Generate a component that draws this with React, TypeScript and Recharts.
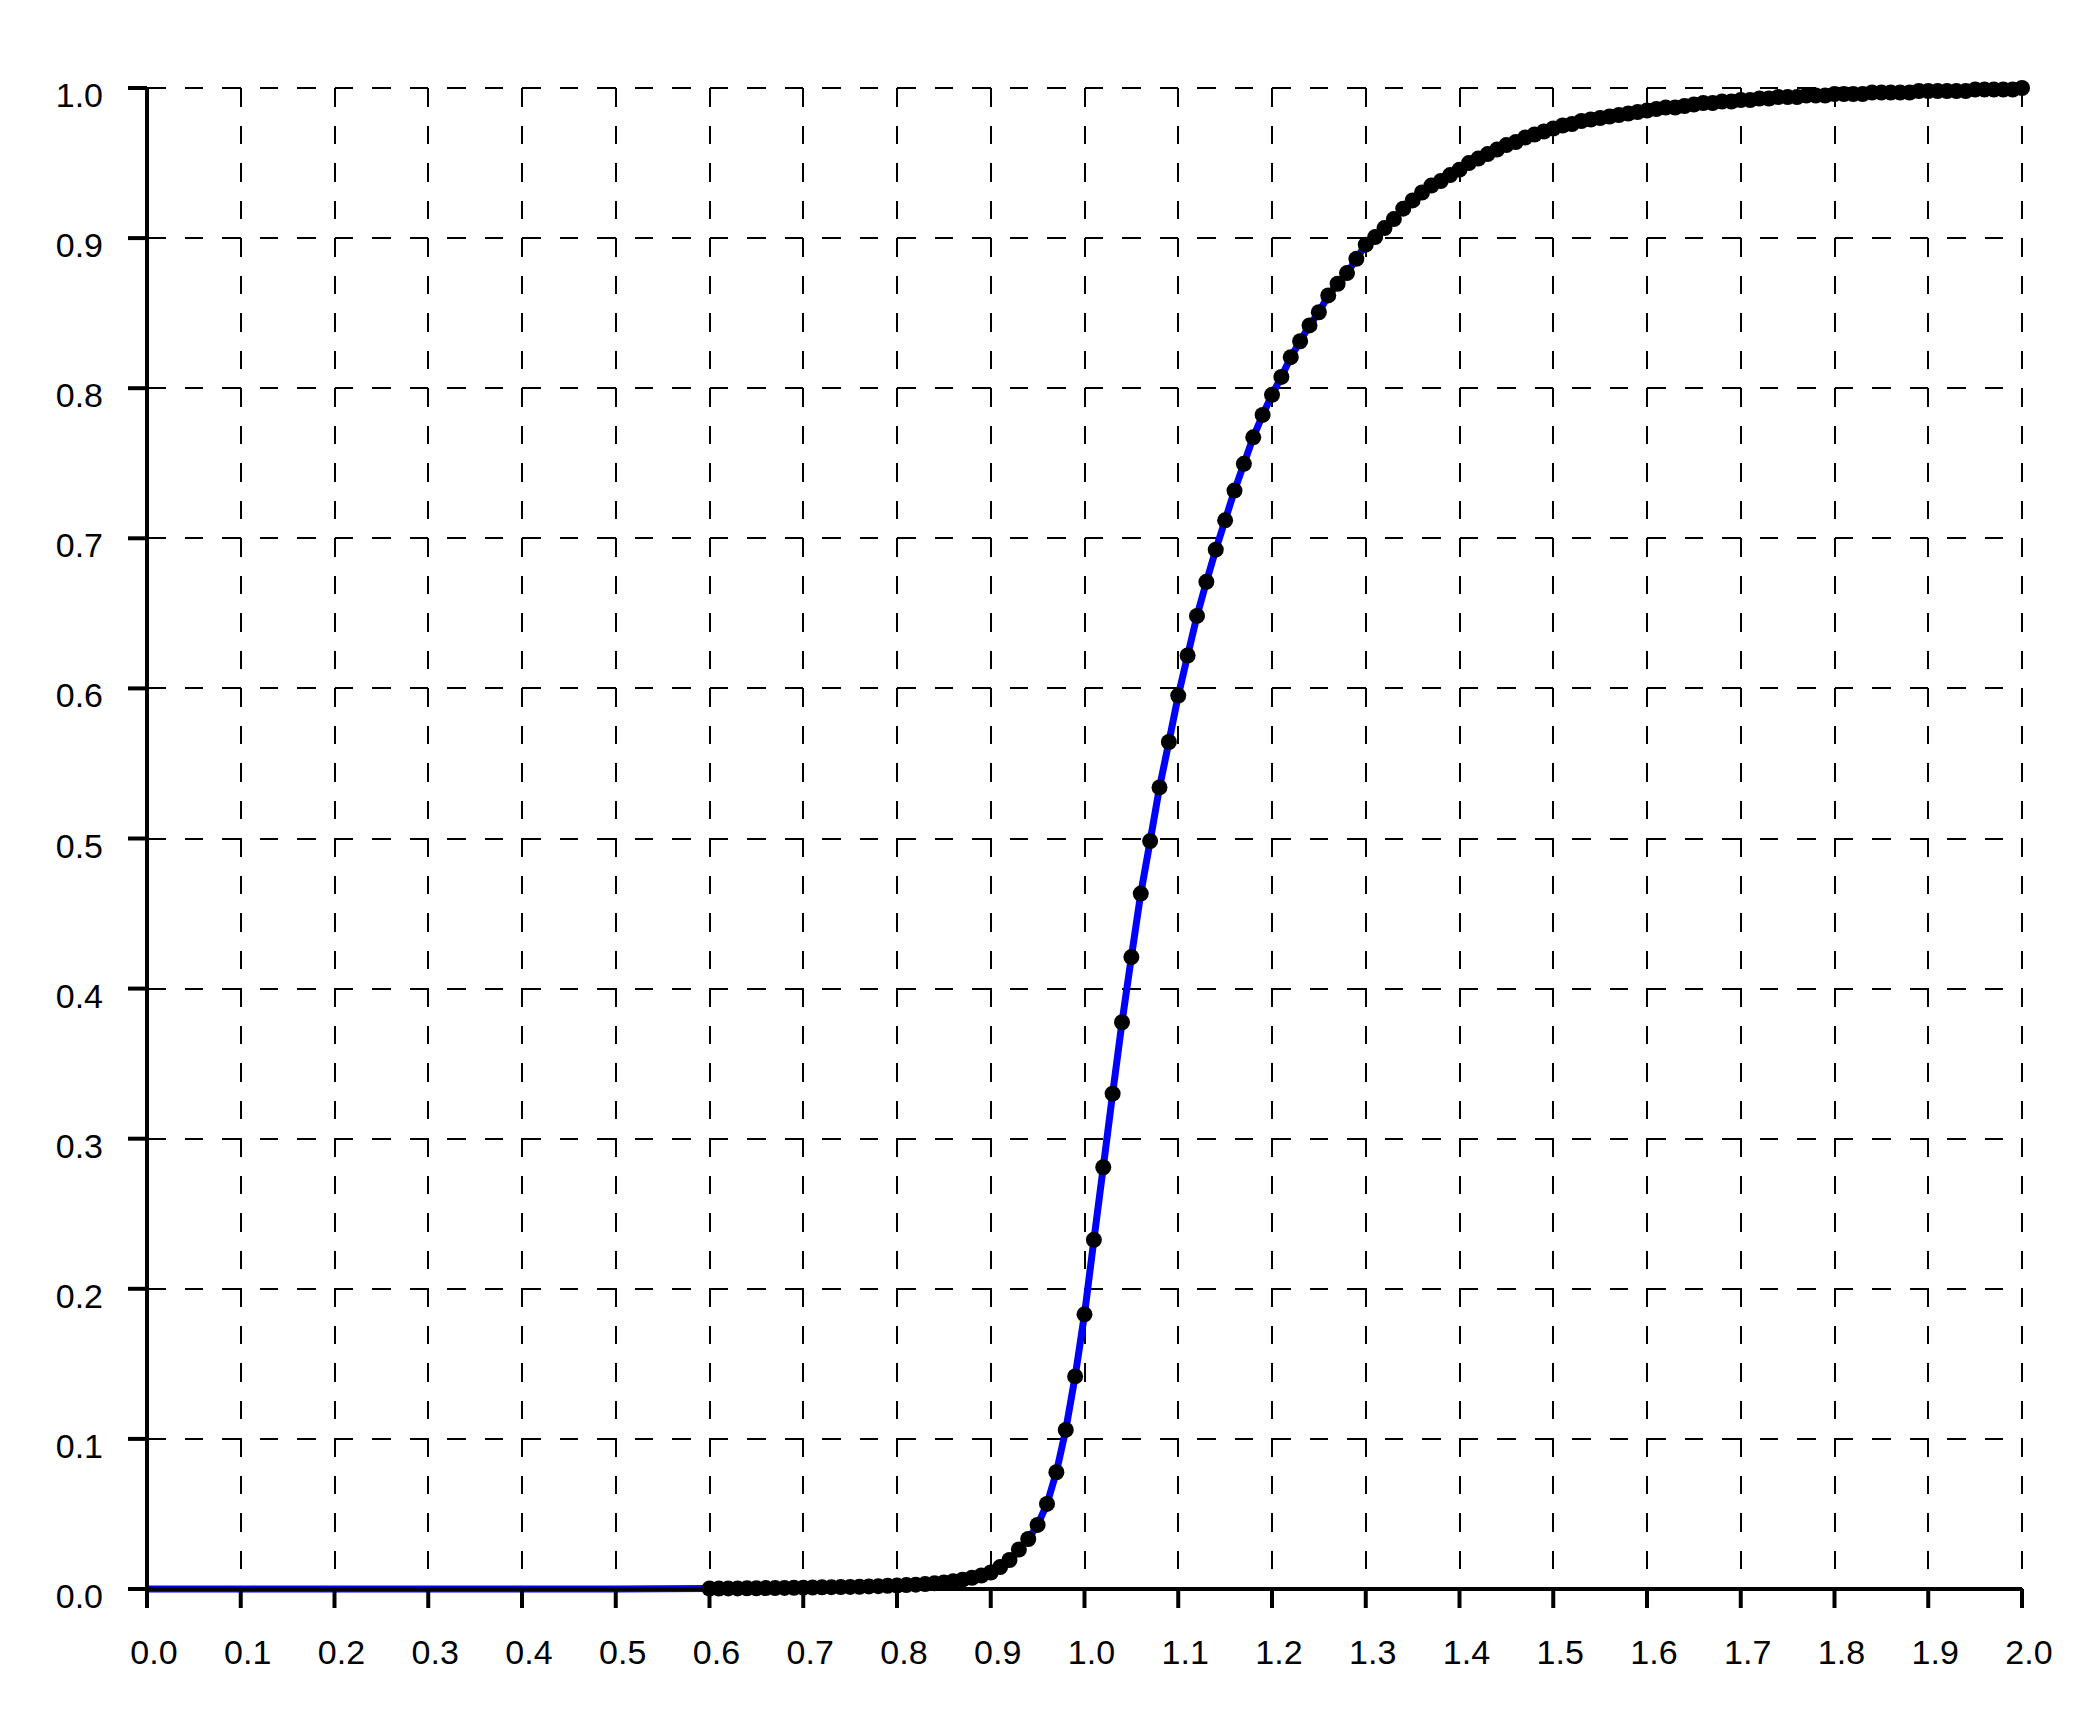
import { ComposedChart, Line, XAxis, YAxis, CartesianGrid } from 'recharts';

// x ticks 0.0 .. 2.0, y ticks 0.0 .. 1.0
const X_TICKS = [0, 0.1, 0.2, 0.3, 0.4, 0.5, 0.6, 0.7, 0.8, 0.9, 1.0, 1.1, 1.2, 1.3, 1.4, 1.5, 1.6, 1.7, 1.8, 1.9, 2.0];
const Y_TICKS = [0, 0.1, 0.2, 0.3, 0.4, 0.5, 0.6, 0.7, 0.8, 0.9, 1.0];

// fitted curve before the sample starts (flat at zero)
const fitX = [0, 0.1, 0.2, 0.3, 0.4, 0.5];
const fitY = [0, 0, 0, 0, 0, 0];

// sampled points (black dots), also followed by the blue curve
const sampleX = [
  0.60, 0.61, 0.62, 0.63, 0.64, 0.65, 0.66, 0.67, 0.68, 0.69,
  0.70, 0.71, 0.72, 0.73, 0.74, 0.75, 0.76, 0.77, 0.78, 0.79,
  0.80, 0.81, 0.82, 0.83, 0.84, 0.85, 0.86, 0.87, 0.88, 0.89,
  0.90, 0.91, 0.92, 0.93, 0.94, 0.95, 0.96, 0.97, 0.98, 0.99,
  1.00, 1.01, 1.02, 1.03, 1.04, 1.05, 1.06, 1.07, 1.08, 1.09,
  1.10, 1.11, 1.12, 1.13, 1.14, 1.15, 1.16, 1.17, 1.18, 1.19,
  1.20, 1.21, 1.22, 1.23, 1.24, 1.25, 1.26, 1.27, 1.28, 1.29,
  1.30, 1.31, 1.32, 1.33, 1.34, 1.35, 1.36, 1.37, 1.38, 1.39,
  1.40, 1.41, 1.42, 1.43, 1.44, 1.45, 1.46, 1.47, 1.48, 1.49,
  1.50, 1.51, 1.52, 1.53, 1.54, 1.55, 1.56, 1.57, 1.58, 1.59,
  1.60, 1.61, 1.62, 1.63, 1.64, 1.65, 1.66, 1.67, 1.68, 1.69,
  1.70, 1.71, 1.72, 1.73, 1.74, 1.75, 1.76, 1.77, 1.78, 1.79,
  1.80, 1.81, 1.82, 1.83, 1.84, 1.85, 1.86, 1.87, 1.88, 1.89,
  1.90, 1.91, 1.92, 1.93, 1.94, 1.95, 1.96, 1.97, 1.98, 1.99,
  2.00,
];

const sampleY = [
  0.0003, 0.0003, 0.0004, 0.0004, 0.0005, 0.0005, 0.0006, 0.0006, 0.0007, 0.0008,
  0.0009, 0.0010, 0.0011, 0.0012, 0.0013, 0.0014, 0.0015, 0.0017, 0.0019, 0.0021,
  0.0023, 0.0026, 0.0029, 0.0033, 0.0038, 0.0044, 0.0052, 0.0062, 0.0075, 0.0090,
  0.0110, 0.0146, 0.0193, 0.0263, 0.0333, 0.0427, 0.0567, 0.0778, 0.1060, 0.1416,
  0.1830, 0.2326, 0.2810, 0.3300, 0.3776, 0.4210, 0.4633, 0.4983, 0.5340, 0.5643,
  0.5952, 0.6219, 0.6483, 0.6710, 0.6924, 0.7120, 0.7318, 0.7496, 0.7673, 0.7822,
  0.7956, 0.8075, 0.8207, 0.8313, 0.8418, 0.8506, 0.8618, 0.8696, 0.8767, 0.8862,
  0.8956, 0.9007, 0.9067, 0.9127, 0.9196, 0.9251, 0.9304, 0.9350, 0.9380, 0.9420,
  0.9456, 0.9500, 0.9530, 0.9560, 0.9590, 0.9620, 0.9640, 0.9670, 0.9690, 0.9710,
  0.9730, 0.9750, 0.9760, 0.9780, 0.9790, 0.9800, 0.9810, 0.9820, 0.9830, 0.9840,
  0.9850, 0.9860, 0.9870, 0.9870, 0.9880, 0.9890, 0.9900, 0.9900, 0.9910, 0.9910,
  0.9920, 0.9920, 0.9930, 0.9930, 0.9940, 0.9940, 0.9940, 0.9950, 0.9950, 0.9950,
  0.9960, 0.9960, 0.9960, 0.9960, 0.9970, 0.9970, 0.9970, 0.9970, 0.9970, 0.9980,
  0.9980, 0.9980, 0.9980, 0.9980, 0.9980, 0.9990, 0.9990, 0.9990, 0.9990, 0.9990,
  1.0000,
];

const FONT = '"Liberation Sans", Arial, Helvetica, sans-serif';

const rows = [
  ...fitX.map((x, i) => ({ x, fit: fitY[i] })),
  ...sampleX.map((x, i) => ({ x, fit: sampleY[i], emp: sampleY[i] })),
];

const XTick = ({ x, y, payload }: any) => (
  <text x={x + 7} y={y} dy="0.71em" textAnchor="middle" fontSize={34} fontFamily={FONT} fill="#000">
    {Number(payload.value).toFixed(1)}
  </text>
);

const YTick = ({ x, y, payload }: any) => (
  <text x={x} y={y} dy={19} textAnchor="end" fontSize={34} fontFamily={FONT} fill="#000">
    {Number(payload.value).toFixed(1)}
  </text>
);

export default function App() {
  return (
    <div style={{ position: 'absolute', left: 0, top: 0, width: 2100, height: 1722, background: '#fff' }}>
      <ComposedChart width={2100} height={1722} data={rows}
        margin={{ top: 88, right: 78, bottom: 33, left: 0 }}>
        <CartesianGrid stroke="#000" strokeWidth={2} strokeDasharray="18.75 18.75"
          shapeRendering="crispEdges"
          vertical={{ strokeDashoffset: 18 } as any} />
        <Line dataKey="fit" type="linear" stroke="#0000ff" strokeWidth={7} dot={false}
          isAnimationActive={false} />
        <Line dataKey="emp" type="linear" stroke="none" dot={{ r: 8, fill: '#000', stroke: 'none' }}
          activeDot={false} isAnimationActive={false} />
        <XAxis dataKey="x" type="number" domain={[0, 2]} ticks={X_TICKS} interval={0}
          height={100} tickSize={19} tickMargin={32}
          axisLine={{ stroke: '#000', strokeWidth: 4 }} tickLine={{ stroke: '#000', strokeWidth: 4 }}
          tick={<XTick />} />
        <YAxis type="number" domain={[0, 1]} ticks={Y_TICKS} interval={0}
          width={147} tickSize={19} tickMargin={25}
          axisLine={{ stroke: '#000', strokeWidth: 4 }} tickLine={{ stroke: '#000', strokeWidth: 4 }}
          tick={<YTick />} />
      </ComposedChart>
    </div>
  );
}
